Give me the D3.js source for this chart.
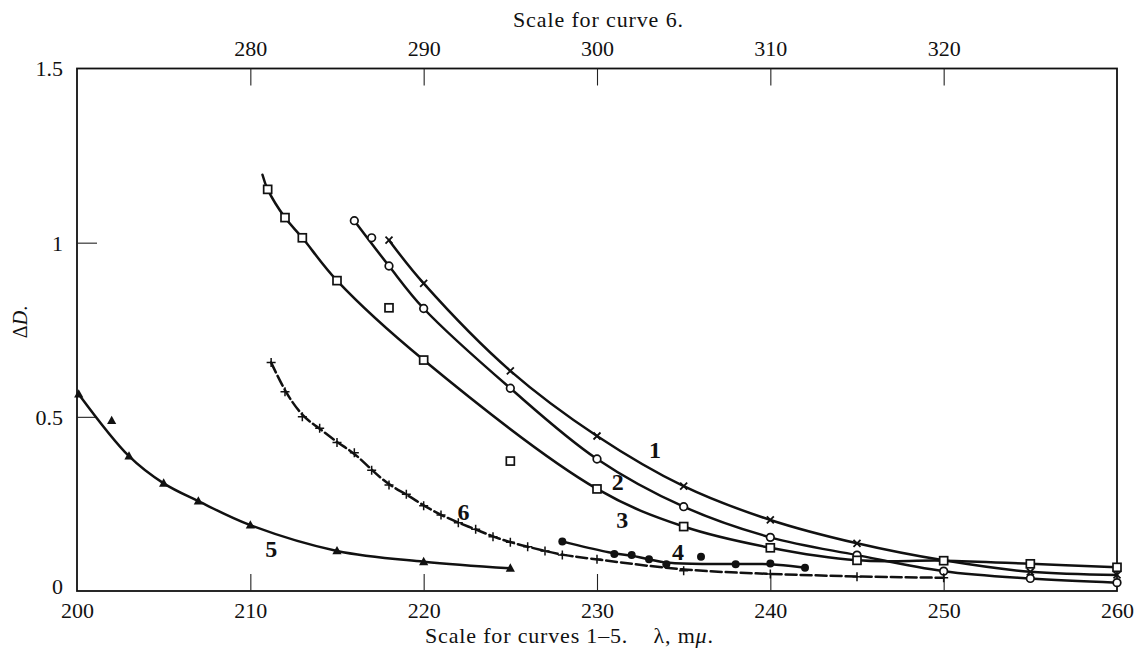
<!DOCTYPE html>
<html lang="en">
<head>
    <meta charset="UTF-8">
    <title>Delta D against wavelength</title>
    <script src="https://d3js.org/d3.v7.min.js" charset="utf-8"></script>
    <style>
        body { margin: 0; background: #fff; }
        text { font-family: "Liberation Serif", "Times New Roman", serif; fill: #111; }
    </style>
</head>
<body>

<script>
// values: [lambda (m mu), delta D]
var curve1 = [[218, 1.007], [220, 0.883], [225, 0.632], [230, 0.445], [235, 0.301],
              [240, 0.204], [245, 0.137], [250, 0.088], [255, 0.055], [260, 0.046]];
var curve2 = [[216, 1.063], [218, 0.933], [220, 0.811], [225, 0.582], [230, 0.379],
              [235, 0.242], [240, 0.154], [245, 0.103], [250, 0.057], [255, 0.036], [260, 0.024]];
var curve2Off = [[217, 1.014]];
var curve3 = [[211, 1.153], [212, 1.072], [213, 1.014], [215, 0.891], [220, 0.663], [230, 0.293],
              [235, 0.185], [240, 0.124], [245, 0.088], [250, 0.087], [255, 0.078], [260, 0.068]];
var curve3Off = [[218, 0.813], [225, 0.373]];
var curve3Start = [210.7, 1.195];
var curve4 = [[228, 0.142], [231, 0.106], [232, 0.103], [233, 0.091], [234, 0.077],
              [238, 0.077], [240, 0.079], [242, 0.067]];
var curve4Off = [[236, 0.098]];
var curve5 = [[200.1, 0.565], [203, 0.387], [205, 0.309], [207, 0.258], [210, 0.189],
              [215, 0.115], [220, 0.084], [225, 0.065]];
var curve5Off = [[202, 0.489]];
// curve 6 is on the upper scale
var curve6 = [[281.2, 0.656], [282, 0.572], [283, 0.500], [284, 0.467], [285, 0.426], [286, 0.397],
              [287, 0.347], [288, 0.304], [289, 0.278], [290, 0.245], [291, 0.218], [292, 0.196],
              [293, 0.177], [294, 0.156], [295, 0.140], [296, 0.127], [297, 0.115], [298, 0.103],
              [300, 0.091], [305, 0.058], [310, 0.049], [315, 0.041], [320, 0.038]];

var bottomTicks = [200, 210, 220, 230, 240, 250, 260];
var topTicks = [280, 290, 300, 310, 320];
var yTicks = [0, 0.5, 1, 1.5];

// curve labels: [text, lambda, delta D]
var curveLabels = [["1", 233.35, 0.405], ["2", 231.2, 0.313], ["3", 231.45, 0.204],
                   ["4", 234.67, 0.112], ["5", 211.2, 0.123], ["6", 222.3, 0.227]];

var width = 1140, height = 648;
var plotL = 77, plotR = 1117, plotT = 68.5, plotB = 591;

var x = d3.scaleLinear().domain([200, 260]).range([plotL, plotR]);
var x6 = d3.scaleLinear().domain([270, 330]).range([plotL, plotR]);
var y = d3.scaleLinear().domain([0, 1.5]).range([plotB, plotT]);

var svg = d3.select("body").append("svg")
  .attr("width", width)
  .attr("height", height);

// frame
svg.append("rect")
  .attr("x", plotL).attr("y", plotT)
  .attr("width", plotR - plotL).attr("height", plotB - plotT)
  .attr("fill", "none").attr("stroke", "#111").attr("stroke-width", 1.8);

// inward ticks
var gx = svg.append("g")
  .attr("transform", "translate(0," + plotB + ")")
  .call(d3.axisBottom(x).tickValues(bottomTicks).tickSize(-17).tickFormat(d3.format("d")));
var gt = svg.append("g")
  .attr("transform", "translate(0," + plotT + ")")
  .call(d3.axisTop(x6).tickValues(topTicks).tickSize(-17).tickFormat(d3.format("d")));
var gy = svg.append("g")
  .attr("transform", "translate(" + plotL + ",0)")
  .call(d3.axisLeft(y).tickValues(yTicks).tickSize(-20).tickFormat(function(d) { return d === 0 || d === 1 ? d : d3.format(".1f")(d); }));

[gx, gt, gy].forEach(function(g) {
  g.select(".domain").remove();
  g.selectAll("line").attr("stroke", "#222").attr("stroke-width", 1.1);
  g.selectAll("text").style("font-family", "Liberation Serif, serif").style("font-size", "22px").attr("fill", "#111");
});
// corner ticks are not drawn
gx.selectAll(".tick").filter(function(d) { return d === 200 || d === 260; }).select("line").remove();
gy.selectAll(".tick").filter(function(d) { return d === 0 || d === 1.5; }).select("line").remove();
gx.selectAll("text").attr("y", 27).attr("dy", 0);
gt.selectAll("text").attr("y", -13).attr("dy", 0);
gy.selectAll("text").attr("x", -14).attr("dy", "0.34em");
gy.selectAll(".tick").filter(function(d) { return d === 0; }).select("text").attr("dy", "0.1em");

// axis titles
svg.append("text")
  .attr("x", 598).attr("y", 27)
  .attr("text-anchor", "middle")
  .attr("textLength", 170).attr("lengthAdjust", "spacing")
  .style("font-size", "22px")
  .text("Scale for curve 6.");

var bt = svg.append("text")
  .attr("x", 425).attr("y", 643)
  .attr("textLength", 288).attr("lengthAdjust", "spacing")
  .style("font-size", "22px");
bt.append("tspan").text("Scale for curves 1\u20135.\u00a0\u00a0\u00a0 \u03bb, m");
bt.append("tspan").style("font-style", "italic").text("\u03bc");
bt.append("tspan").text(".");

var yl = svg.append("text")
  .attr("transform", "translate(27,322) rotate(-90)")
  .attr("text-anchor", "middle")
  .style("font-size", "20px");
yl.append("tspan").text("\u0394");
yl.append("tspan").style("font-style", "italic").text("D");
yl.append("tspan").text(".");

// lines
var line = d3.line()
  .x(function(d) { return x(d[0]); })
  .y(function(d) { return y(d[1]); })
  .curve(d3.curveCatmullRom.alpha(0.5));
var lineSmooth = d3.line()
  .x(function(d) { return x(d[0]); })
  .y(function(d) { return y(d[1]); })
  .curve(d3.curveBasis);
var line6 = d3.line()
  .x(function(d) { return x6(d[0]); })
  .y(function(d) { return y(d[1]); })
  .curve(d3.curveBasis);

var plot = svg.append("g");
function drawLine(data, gen, dash) {
  plot.append("path")
    .datum(data)
    .attr("d", gen)
    .attr("fill", "none")
    .attr("stroke", "#111")
    .attr("stroke-width", 2.5)
    .attr("stroke-linecap", "round")
    .attr("stroke-dasharray", dash || null);
}
drawLine(curve1, line);
drawLine(curve2, line);
drawLine([curve3Start].concat(curve3), line);
drawLine(curve4, lineSmooth);
drawLine(curve5, line);
drawLine(curve6, line6, "11,4");

// markers
var marks = svg.append("g");
function px(d) { return x(d[0]); }
function py(d) { return y(d[1]); }

marks.selectAll(".c1").data(curve1).enter().append("path")
  .attr("transform", function(d) { return "translate(" + px(d) + "," + py(d) + ")"; })
  .attr("d", "M-3.5,-3.5L3.5,3.5M-3.5,3.5L3.5,-3.5")
  .attr("stroke", "#111").attr("stroke-width", 1.8).attr("fill", "none");

marks.selectAll(".c2").data(curve2.concat(curve2Off)).enter().append("circle")
  .attr("cx", px).attr("cy", py).attr("r", 3.8)
  .attr("fill", "#fff").attr("stroke", "#111").attr("stroke-width", 1.7);

marks.selectAll(".c3").data(curve3.concat(curve3Off)).enter().append("rect")
  .attr("x", function(d) { return px(d) - 4; }).attr("y", function(d) { return py(d) - 4; })
  .attr("width", 8).attr("height", 8)
  .attr("fill", "#fff").attr("stroke", "#111").attr("stroke-width", 1.7);

marks.selectAll(".c4").data(curve4.concat(curve4Off)).enter().append("circle")
  .attr("cx", px).attr("cy", py).attr("r", 4)
  .attr("fill", "#111");

marks.selectAll(".c5").data(curve5.concat(curve5Off)).enter().append("path")
  .attr("transform", function(d) { return "translate(" + px(d) + "," + py(d) + ")"; })
  .attr("d", "M0,-5L4.6,3.4L-4.6,3.4Z")
  .attr("fill", "#111");

marks.selectAll(".c6").data(curve6).enter().append("path")
  .attr("transform", function(d) { return "translate(" + x6(d[0]) + "," + py(d) + ")"; })
  .attr("d", "M-4.5,0L4.5,0M0,-4.5L0,4.5")
  .attr("stroke", "#111").attr("stroke-width", 1.5);

// curve numbers
svg.selectAll(".lab").data(curveLabels).enter().append("text")
  .attr("x", function(d) { return x(d[1]); })
  .attr("y", function(d) { return y(d[2]); })
  .attr("text-anchor", "middle")
  .attr("dy", "0.35em")
  .style("font-size", "24px")
  .style("font-weight", "bold")
  .text(function(d) { return d[0]; });
</script>

</body>
</html>
